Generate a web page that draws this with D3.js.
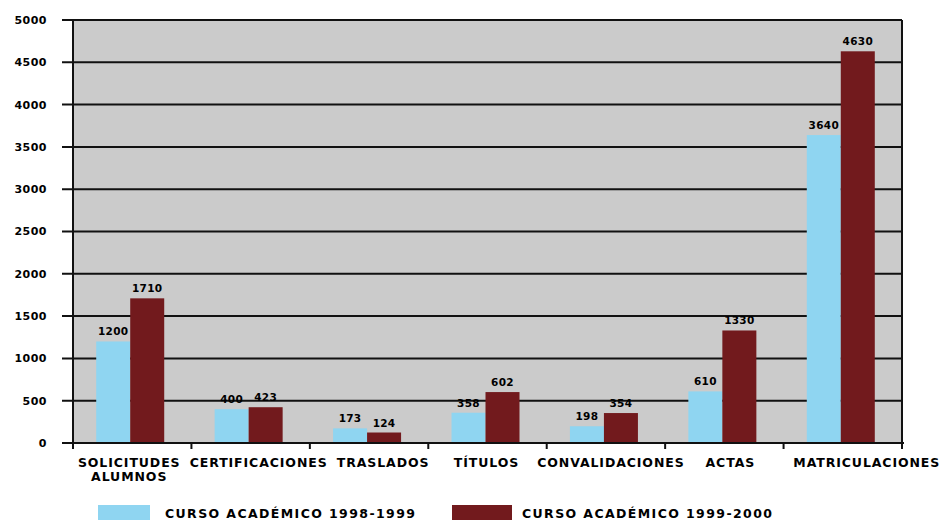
<!DOCTYPE html>
<html><head><meta charset="utf-8">
<script src="https://cdn.jsdelivr.net/npm/d3@7"></script>
<style>body{margin:0;background:#fff}svg{display:block}</style>
</head><body>
<script>
const categories = [["SOLICITUDES","ALUMNOS"],["CERTIFICACIONES"],["TRASLADOS"],["TÍTULOS"],["CONVALIDACIONES"],["ACTAS"],["MATRICULACIONES"]];
const series1998 = [1200, 400, 173, 358, 198, 610, 3640];
const series1999 = [1710, 423, 124, 602, 354, 1330, 4630];
const seriesNames = ["CURSO ACADÉMICO 1998-1999", "CURSO ACADÉMICO 1999-2000"];
const yTicks = [0,500,1000,1500,2000,2500,3000,3500,4000,4500,5000];

const W=944,H=522;
const m={l:73,r:42,t:20,b:79};
const svg=d3.select("body").append("svg").attr("width",W).attr("height",H);
const x0=d3.scaleBand().domain(d3.range(categories.length)).range([m.l,W-m.r]).padding(0);
const y=d3.scaleLinear().domain([0,5000]).range([H-m.b,m.t]);
const colors=["#8fd5f1","#721a1d"];
const font="'DejaVu Sans', sans-serif";

svg.append("rect").attr("x",m.l).attr("y",m.t).attr("width",W-m.r-m.l).attr("height",y(0)-m.t).attr("fill","#cbcbcb");

svg.append("g").selectAll("line").data(yTicks).join("line")
  .attr("x1",m.l-11).attr("x2",W-m.r).attr("y1",d=>y(d)).attr("y2",d=>y(d))
  .attr("stroke","#111").attr("stroke-width",2);

svg.append("g").selectAll("text").data(yTicks).join("text")
  .attr("x",47).attr("y",d=>y(d)).attr("dy","0.36em").attr("text-anchor","end")
  .attr("font-family",font).attr("font-weight","bold").attr("font-size",11).attr("letter-spacing",0.5)
  .text(d=>d);

const x1=d3.scaleBand().domain([0,1]).range([0,68]);
const groups=svg.append("g").selectAll("g").data(categories.map((c,i)=>i)).join("g")
  .attr("transform",i=>`translate(${x0(i)+x0.bandwidth()/2-36},0)`);
const pairs=i=>[series1998[i],series1999[i]].map((v,s)=>({v,s}));
groups.selectAll("rect").data(pairs).join("rect")
  .attr("x",d=>x1(d.s)).attr("width",x1.bandwidth()).attr("y",d=>y(d.v)).attr("height",d=>y(0)-y(d.v))
  .attr("fill",d=>colors[d.s]);
groups.selectAll("text").data(pairs).join("text")
  .attr("x",d=>x1(d.s)+x1.bandwidth()/2).attr("y",d=>y(d.v)-6).attr("text-anchor","middle")
  .attr("font-family",font).attr("font-weight","bold").attr("font-size",10.5).attr("letter-spacing",0.3)
  .text(d=>d.v);

svg.append("line").attr("x1",m.l).attr("x2",m.l).attr("y1",m.t).attr("y2",y(0)+6).attr("stroke","#111").attr("stroke-width",2);
svg.append("line").attr("x1",W-m.r).attr("x2",W-m.r).attr("y1",m.t).attr("y2",y(0)+6).attr("stroke","#111").attr("stroke-width",2);
svg.append("line").attr("x1",m.l-11).attr("x2",W-m.r+2).attr("y1",y(0)).attr("y2",y(0)).attr("stroke","#111").attr("stroke-width",2);
svg.append("g").selectAll("line").data(d3.range(1,categories.length)).join("line")
  .attr("x1",i=>x0(i)).attr("x2",i=>x0(i)).attr("y1",y(0)).attr("y2",y(0)+6).attr("stroke","#111").attr("stroke-width",2);

const xoff=[-3,8,14,-1,5,6,24];
const xl=svg.append("g").selectAll("text").data(categories).join("text")
  .attr("x",(c,i)=>x0(i)+x0.bandwidth()/2+xoff[i]).attr("y",467).attr("text-anchor","middle")
  .attr("font-family",font).attr("font-size",12.5).attr("font-weight","bold").attr("letter-spacing",0.9);
xl.selectAll("tspan").data(c=>c).join("tspan")
  .attr("x",function(){return this.parentNode.getAttribute("x");}).attr("dy",(d,j)=>j?14:0).text(d=>d);

const lx=[98,452];
const lg=svg.append("g").selectAll("g").data(seriesNames).join("g").attr("transform",(d,i)=>`translate(${lx[i]},505)`);
lg.append("rect").attr("width",(d,i)=>i?60:52).attr("height",15).attr("fill",(d,i)=>colors[i]);
lg.append("text").attr("x",(d,i)=>i?70:67).attr("y",8).attr("dy","0.36em")
  .attr("font-family",font).attr("font-size",12.5).attr("font-weight","bold").attr("letter-spacing",1.4).text(d=>d);
</script>
</body></html>
